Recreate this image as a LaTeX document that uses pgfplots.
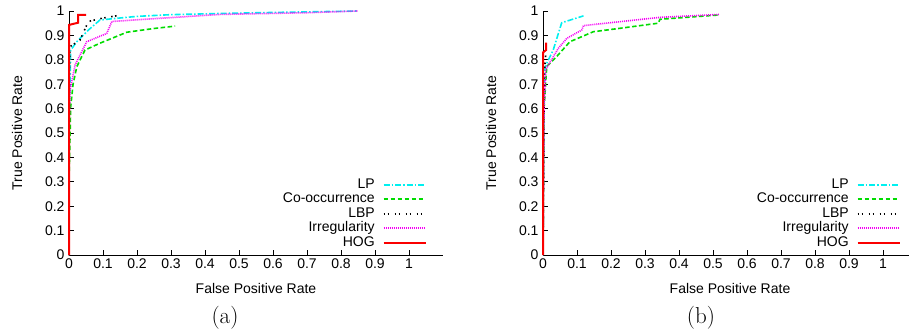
\documentclass[border=0pt]{standalone}
\usepackage{fontspec}
\usepackage{pgfplots}
\pgfplotsset{compat=1.18}
\newfontfamily\arial{Liberation Sans}
\definecolor{gpcyan}{RGB}{0,240,240}
\definecolor{cooccgreen}{RGB}{0,220,0}
\definecolor{gpmag}{RGB}{245,0,245}
\definecolor{gpred}{RGB}{250,0,0}
\pgfplotsset{
  rocaxis/.style={
    scale only axis, width=374pt, height=244pt,
    xmin=0, xmax=1.1, ymin=0, ymax=1,
    axis lines=left, axis line style={-, line width=0.8pt},
    tick align=inside, major tick length=5pt,
    tick style={line width=0.6pt, black},
    xtick={0,0.1,0.2,0.3,0.4,0.5,0.6,0.7,0.8,0.9,1},
    ytick={0,0.1,0.2,0.3,0.4,0.5,0.6,0.7,0.8,0.9,1},
    /pgf/number format/assume math mode=true,
    tick label style={font=\arial\fontsize{14}{16}\selectfont},
    yticklabel style={xshift=-1pt},
    xlabel={False Positive Rate}, ylabel={True Positive Rate},
    every axis x label/.style={at={(rel axis cs:0.5,0)},anchor=center,yshift=-33pt,font=\arial\fontsize{14}{16}\selectfont},
    every axis y label/.style={at={(rel axis cs:0,0.5)},anchor=center,xshift=-52pt,rotate=90,font=\arial\fontsize{14}{16}\selectfont},
    legend plot pos=right, legend cell align=right,
    legend image code/.code={\draw[##1] (0pt,0pt) -- (42pt,0pt);},
    legend style={draw=none, fill=none, at={(0.957,0.025)}, anchor=south east,
      inner sep=0pt, font=\arial\fontsize{14}{16}\selectfont, row sep=2.5pt,
      nodes={inner sep=0pt, text height=9.5pt, text depth=2.5pt},
      /tikz/every odd column/.append style={column sep=8pt}},
    clip=false,
  },
}
\tikzset{
  rocLP/.style={draw=gpcyan, line width=1.6pt, dash pattern=on 6pt off 2pt on 1.5pt off 2pt},
  rocCOO/.style={draw=cooccgreen, line width=1.6pt, dash pattern=on 4.5pt off 2.5pt},
  rocLBP/.style={draw=black, line width=1.6pt, dash pattern=on 1.5pt off 2.5pt on 1.5pt off 5.5pt},
  rocIRR/.style={draw=gpmag, line width=1.6pt, dash pattern=on 1pt off 1pt},
  rocHOG/.style={draw=gpred, line width=2pt},
}
\begin{document}
\begin{tikzpicture}
\useasboundingbox (0,0) rectangle (909pt,332pt);
\begin{axis}[rocaxis, at={(69pt,77pt)}, anchor=south west]
\addplot[rocLP] coordinates {(0,0)(0,0.6)(0.003,0.70)(0.005,0.84)(0.023,0.874)(0.057,0.922)(0.091,0.963)(0.14,0.97)(0.2,0.978)(0.3,0.985)(0.45,0.99)(0.6,0.994)(0.85,1.0)};
\addlegendentry{LP}
\addplot[rocCOO] coordinates {(0,0)(0,0.3)(0.005,0.608)(0.012,0.70)(0.023,0.772)(0.047,0.84)(0.091,0.868)(0.17,0.913)(0.248,0.928)(0.312,0.938)};
\addlegendentry{Co-occurrence}
\addplot[rocLBP] coordinates {(0,0)(0,0.7)(0.003,0.854)(0.032,0.88)(0.057,0.957)(0.096,0.97)(0.155,0.984)};
\addlegendentry{LBP}
\addplot[rocIRR] coordinates {(0,0)(0,0.5)(0.003,0.676)(0.018,0.779)(0.052,0.874)(0.111,0.908)(0.126,0.957)(0.19,0.963)(0.444,0.986)(0.7,0.993)(0.85,1.0)};
\addlegendentry{Irregularity}
\addplot[rocHOG] coordinates {(0,0)(0,0.943)(0.027,0.952)(0.027,0.984)(0.05,0.984)};
\addlegendentry{HOG}
\end{axis}
\begin{axis}[rocaxis, at={(543pt,77pt)}, anchor=south west]
\addplot[rocLP] coordinates {(0,0)(0.003,0.6)(0.005,0.76)(0.011,0.786)(0.016,0.80)(0.03,0.84)(0.055,0.952)(0.119,0.98)};
\addlegendentry{LP}
\addplot[rocCOO] coordinates {(0,0)(0.003,0.6)(0.011,0.772)(0.04,0.813)(0.079,0.874)(0.148,0.915)(0.226,0.929)(0.339,0.95)(0.344,0.966)(0.52,0.984)};
\addlegendentry{Co-occurrence}
\addplot[rocLBP] coordinates {(0,0)(0.003,0.6)(0.006,0.80)(0.009,0.826)};
\addlegendentry{LBP}
\addplot[rocIRR] coordinates {(0,0)(0.003,0.6)(0.008,0.76)(0.016,0.779)(0.045,0.847)(0.07,0.888)(0.114,0.922)(0.119,0.94)(0.344,0.974)(0.52,0.986)};
\addlegendentry{Irregularity}
\addplot[rocHOG] coordinates {(0,0)(0,0.83)(0.009,0.84)(0.009,0.87)};
\addlegendentry{HOG}
\end{axis}
\node at (225pt,14pt) {\fontsize{23}{26}\selectfont (a)};
\node at (701pt,14pt) {\fontsize{23}{26}\selectfont (b)};
\end{tikzpicture}
\end{document}
